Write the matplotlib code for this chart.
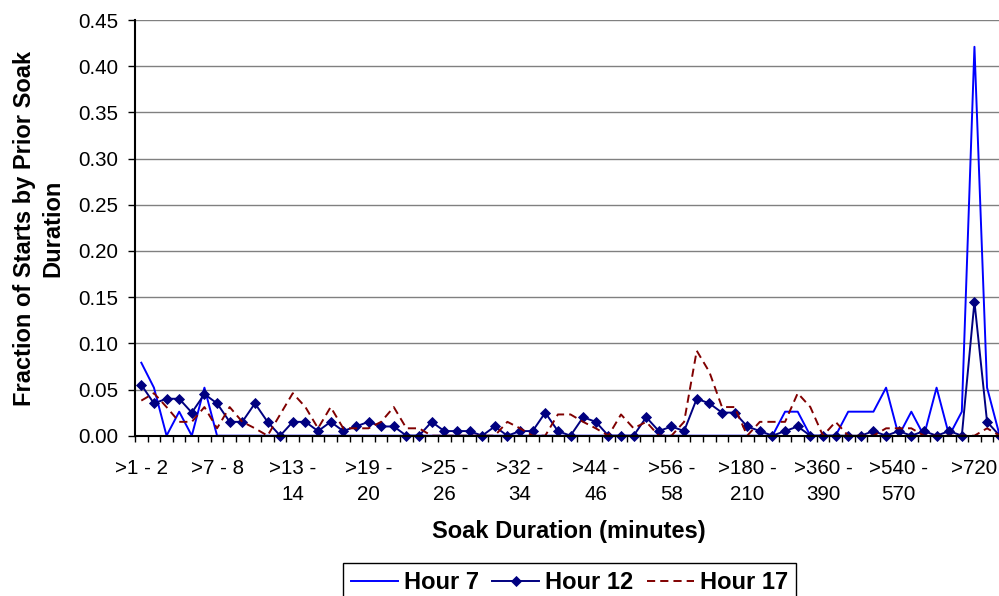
import matplotlib
matplotlib.use("Agg")
import matplotlib.pyplot as plt

plt.rcParams['font.family'] = ['Liberation Sans', 'DejaVu Sans']

# --- dados ---
# limites das classes de duracao (minutos)
limites = list(range(1, 31)) + list(range(32, 62, 2)) + list(range(90, 750, 30))
categorias = [f">{a} - {b}" for a, b in zip(limites[:-1], limites[1:])] + [">720", "", ""]

hora_7 = [0.079, 0.052, 0, 0.026, 0, 0.052, 0, 0, 0, 0,
          0, 0, 0, 0, 0, 0, 0, 0, 0, 0,
          0, 0, 0, 0, 0, 0, 0, 0, 0, 0,
          0, 0, 0, 0, 0, 0, 0, 0, 0, 0,
          0, 0, 0, 0, 0, 0, 0, 0, 0, 0,
          0, 0.026, 0.026, 0, 0, 0, 0.026, 0.026, 0.026, 0.052,
          0, 0.026, 0, 0.052, 0, 0.026, 0.421, 0.052, 0]

hora_12 = [0.055, 0.035, 0.040, 0.040, 0.025, 0.045, 0.035, 0.015, 0.015, 0.035,
           0.015, 0, 0.015, 0.015, 0.005, 0.015, 0.005, 0.010, 0.015, 0.010,
           0.010, 0, 0, 0.015, 0.005, 0.005, 0.005, 0, 0.010, 0,
           0.005, 0.005, 0.025, 0.005, 0, 0.020, 0.015, 0, 0, 0,
           0.020, 0.005, 0.010, 0.005, 0.040, 0.035, 0.025, 0.025, 0.010, 0.005,
           0, 0.005, 0.010, 0, 0, 0, 0, 0, 0.005, 0,
           0.005, 0, 0.005, 0, 0.005, 0, 0.145, 0.015, 0]

hora_17 = [0.038, 0.046, 0.031, 0.015, 0.015, 0.031, 0.008, 0.031, 0.015, 0.008,
           0, 0.023, 0.046, 0.031, 0.008, 0.031, 0.008, 0.008, 0.008, 0.015,
           0.031, 0.008, 0.008, 0, 0, 0, 0, 0, 0, 0.015,
           0.008, 0, 0, 0.023, 0.023, 0.015, 0.008, 0, 0.023, 0.008,
           0.015, 0, 0, 0.015, 0.092, 0.069, 0.031, 0.031, 0, 0.015,
           0.015, 0.015, 0.046, 0.031, 0, 0.015, 0, 0, 0, 0.008,
           0.008, 0.008, 0, 0, 0, 0, 0, 0.008, 0]

series = [("Hour 7", hora_7), ("Hour 12", hora_12), ("Hour 17", hora_17)]
# --- fim dos dados ---


def rotulo_quebrado(txt):
    # o Excel quebra os rotulos compridos em duas linhas
    if len(txt) > 6 and " - " in txt:
        return txt.replace(" - ", " -\n")
    return txt


fig = plt.figure(figsize=(9.99, 5.96), dpi=100)
ax = fig.add_axes([135 / 999, 1 - 435.7 / 596, 871 / 999, 415.7 / 596])

x = list(range(len(categorias)))
estilos = {
    "Hour 7": dict(color="#0000FF", lw=1.4),
    "Hour 12": dict(color="#000080", lw=1.4, marker="D", ms=5, mew=0.6),
    "Hour 17": dict(color="#800000", lw=1.4, dashes=[4.2, 2.6]),
}
for nome, valores in series:
    ax.plot(x, valores, label=nome, clip_on=False, **estilos[nome])

ax.set_xlim(-0.5, len(categorias) - 0.5)
ax.set_ylim(0, 0.45)

# marcas nas fronteiras das categorias, rotulos a cada 6
ax.set_xticks([i - 0.5 for i in range(len(categorias) + 1)])
ax.set_xticklabels([])
ax.tick_params(axis="x", which="major", direction="out", length=4, width=1, color="black")
pos_rot = list(range(0, len(categorias), 6))
ax.set_xticks(pos_rot, minor=True)
ax.set_xticklabels([rotulo_quebrado(categorias[i]) for i in pos_rot], minor=True,
                   fontsize=14.8, linespacing=1.5)
ax.tick_params(axis="x", which="minor", length=0, pad=16.5)

yt = [i * 0.05 for i in range(10)]
ax.set_yticks(yt)
ax.set_yticklabels([f"{v:.2f}" for v in yt], fontsize=14.8)
ax.tick_params(axis="y", direction="out", length=5, width=1, pad=7)

ax.grid(axis="y", color="#808080", lw=1)
ax.set_axisbelow(True)
for s in ["top", "right"]:
    ax.spines[s].set_visible(False)
ax.spines["left"].set_linewidth(1.5)
ax.spines["bottom"].set_linewidth(1.5)

fig.text(569 / 999, 1 - 538 / 596, "Soak Duration (minutes)", fontsize=17,
         fontweight="bold", ha="center", va="baseline")
fig.text(39 / 999, 1 - 228 / 596, "Fraction of Starts by Prior Soak\nDuration",
         fontsize=17, fontweight="bold", rotation=90, ha="center", va="center",
         multialignment="center", linespacing=1.3)

leg = fig.legend(loc="upper center", bbox_to_anchor=(569.5 / 999, 1 - 563 / 596),
                 ncol=3, prop={"size": 17, "weight": "bold"}, frameon=True,
                 fancybox=False, framealpha=1, edgecolor="black", borderpad=0.35,
                 handlelength=2.0, handletextpad=0.25, columnspacing=0.55,
                 borderaxespad=0)
leg.get_frame().set_linewidth(1)

plt.savefig("out.png", dpi=100)
